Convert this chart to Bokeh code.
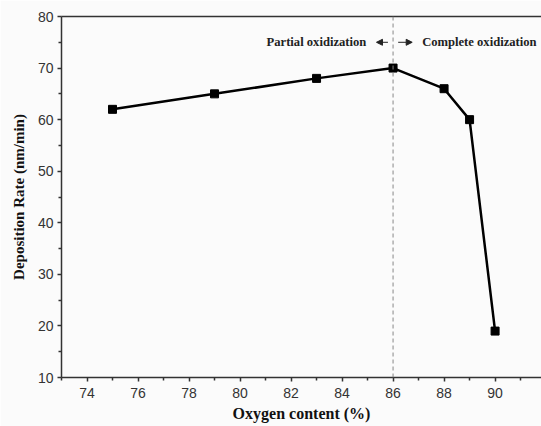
from bokeh.plotting import figure
from bokeh.models import Span, Arrow, NormalHead, LinearAxis, Range1d, Label, FixedTicker
from bokeh.embed import file_html
from bokeh.resources import INLINE

oxygen = [75, 79, 83, 86, 88, 89, 90]
rate = [62, 65, 68, 70, 66, 60, 19]
x_ticks = [74, 76, 78, 80, 82, 84, 86, 88, 90]
y_ticks = [10, 20, 30, 40, 50, 60, 70, 80]
boundary = 86
left_text = "Partial oxidization"
right_text = "Complete oxidization"

p = figure(width=541, height=426, output_backend="svg", toolbar_location=None,
           x_range=Range1d(73, 91.82), y_range=Range1d(10, 80),
           min_border_left=61, min_border_right=0, min_border_top=16, min_border_bottom=49)
p.outline_line_color = None
p.grid.visible = False
p.background_fill_color = "#fbfbfb"
p.border_fill_color = "#fbfbfb"

p.line(oxygen, rate, line_color="black", line_width=2.5)
p.scatter(oxygen, rate, marker="square", size=8, color="black")

p.add_layout(Span(location=boundary, dimension="height", line_color="#888888",
                  line_dash="4 3", line_width=1))

head = dict(size=6, fill_color="#222222", line_color="#222222")
p.add_layout(Arrow(end=NormalHead(**head), x_start=85.8, y_start=75, x_end=85.35, y_end=75,
                   line_color="#222222", line_width=1))
p.add_layout(Arrow(end=NormalHead(**head), x_start=86.2, y_start=75, x_end=86.75, y_end=75,
                   line_color="#222222", line_width=1))
p.add_layout(Label(x=84.95, y=75, text=left_text, text_align="right", text_baseline="middle",
                   text_font="Liberation Serif", text_font_style="bold", text_font_size="12.6px",
                   text_color="#222222"))
p.add_layout(Label(x=87.14, y=75, text=right_text, text_align="left", text_baseline="middle",
                   text_font="Liberation Serif", text_font_style="bold", text_font_size="12.6px",
                   text_color="#222222"))

for ax in (p.xaxis[0], p.yaxis[0]):
    ax.axis_line_color = "#333333"
    ax.axis_line_width = 1.5
    ax.major_tick_line_color = "#333333"
    ax.minor_tick_line_color = "#333333"
    ax.major_tick_line_width = 1.5
    ax.minor_tick_line_width = 1.5
    ax.major_tick_in = 0
    ax.major_tick_out = 4
    ax.minor_tick_in = 0
    ax.minor_tick_out = 3
    ax.major_label_text_font = "Liberation Sans"
    ax.major_label_text_font_size = "14px"
    ax.major_label_text_color = "#333333"
    ax.axis_label_text_font = "Liberation Serif"
    ax.axis_label_text_font_style = "bold"
    ax.axis_label_text_color = "#111111"

p.xaxis.ticker = FixedTicker(ticks=x_ticks, minor_ticks=[t + 1 for t in range(72, 92, 2)])
p.yaxis.ticker = FixedTicker(ticks=y_ticks, minor_ticks=[t + 5 for t in range(0, 80, 10)])
p.xaxis.axis_label = "Oxygen content (%)"
p.yaxis.axis_label = "Deposition Rate (nm/min)"
p.xaxis.axis_label_text_font_size = "16px"
p.yaxis.axis_label_text_font_size = "15px"
p.xaxis.major_label_standoff = 6
p.yaxis.major_label_standoff = 4
p.xaxis.axis_label_standoff = 4
p.yaxis.axis_label_standoff = 8

top = LinearAxis(ticker=FixedTicker(ticks=[]), axis_line_color="#333333", axis_line_width=1.5,
                 major_tick_line_color=None, minor_tick_line_color=None)
p.add_layout(top, "above")

open("out.html", "w").write(file_html(p, INLINE))
